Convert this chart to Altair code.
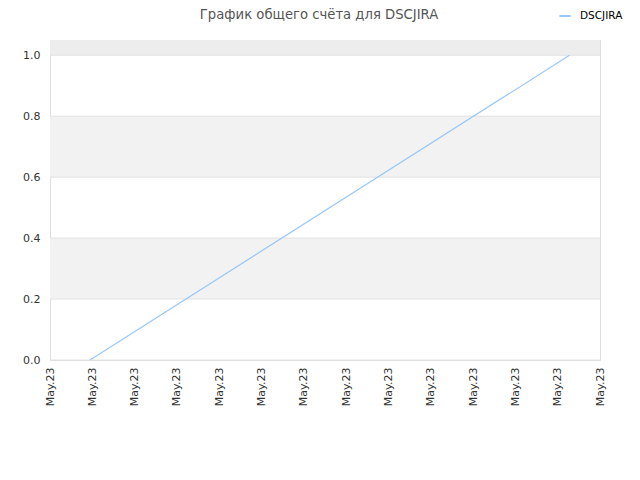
import altair as alt
import pandas as pd

# series data (time index in ticks of the x axis; all ticks fall in May.23)
x_time = [0.945, 12.28]
y_score = [0.0, 1.0]
series_name = ["DSCJIRA", "DSCJIRA"]

x_ticks = list(range(0, 14))
x_tick_label = "May.23"
y_ticks = [0.0, 0.2, 0.4, 0.6, 0.8, 1.0]

band_lo = [0.2, 0.6, 1.0]
band_hi = [0.4, 0.8, 1.05]
band_col = ["#f2f2f2", "#f2f2f2", "#ededed"]

title_text = ["График общего счёта для DSCJIRA"]

line_df = pd.DataFrame({"x": x_time, "y": y_score, "series": series_name})
band_df = pd.DataFrame({"lo": band_lo, "hi": band_hi, "col": band_col})
title_df = pd.DataFrame({"t": title_text})

FONT = "DejaVu Sans"

xscale = alt.Scale(domain=[0, 13], nice=False, zero=False)
yscale = alt.Scale(domain=[0, 1.05], nice=False)

bands = alt.Chart(band_df).mark_rect().encode(
    x=alt.value(0),
    x2=alt.value(550),
    y=alt.Y("lo:Q", scale=yscale),
    y2="hi:Q",
    fill=alt.Fill("col:N", scale=None, legend=None),
)

grid = alt.Chart(pd.DataFrame({"v": y_ticks})).mark_rule(color="#e2e2e2", strokeWidth=1).encode(
    y=alt.Y("v:Q", scale=yscale,
            axis=alt.Axis(values=y_ticks, format=".1f", title=None, grid=False,
                          ticks=False, domain=False, labelFont=FONT, labelFontSize=11,
                          labelColor="#333333", labelPadding=10)),
    x=alt.value(0),
    x2=alt.value(550),
)

line = alt.Chart(line_df).mark_line(strokeWidth=1.2).encode(
    x=alt.X("x:Q", scale=xscale,
            axis=alt.Axis(values=x_ticks, labelExpr=f"'{x_tick_label}'", title=None,
                          grid=False, ticks=False, domain=False, labelAngle=-90,
                          labelFont=FONT, labelFontSize=11, labelColor="#333333",
                          labelPadding=7, labelOverlap=False, labelFlush=False)),
    y=alt.Y("y:Q", scale=yscale),
    color=alt.Color("series:N", scale=alt.Scale(range=["#99c7f5"]),
                    legend=alt.Legend(title=None, orient="none", legendX=508, legendY=-31,
                                      symbolType="stroke", symbolStrokeWidth=2,
                                      symbolSize=130, labelFont=FONT, labelFontSize=10.5,
                                      labelColor="#000000", labelOffset=8)),
)

title = alt.Chart(title_df).mark_text(
    font=FONT, fontSize=13.2, color="#555555", align="center", baseline="alphabetic"
).encode(text="t:N", x=alt.value(269), y=alt.value(-21))

chart = alt.layer(bands, grid, line, title).resolve_scale(fill="independent", color="independent").properties(
    width=550,
    height=320,
    autosize=alt.AutoSizeParams(type="none"),
    padding={"left": 42, "top": 32, "right": 30, "bottom": 110},
).configure_view(stroke="#d9d9d9", strokeWidth=1).configure(background="white")

chart.save("out.html", embed_options={"renderer": "svg", "actions": False})
